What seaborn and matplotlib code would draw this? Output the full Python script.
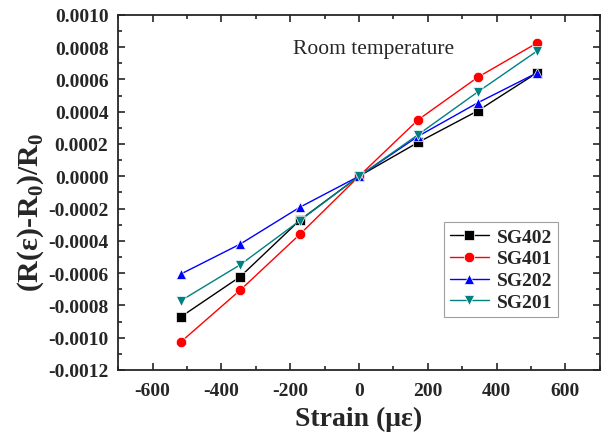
import numpy as np
import pandas as pd
import matplotlib
matplotlib.use("Agg")
import matplotlib.pyplot as plt
from matplotlib.ticker import MultipleLocator, FuncFormatter
import seaborn as sns

strain = [-517, -345, -172, 0, 172, 345, 517]
sg402 = [-0.000870, -0.000622, -0.000272, 0.0, 0.000210, 0.000405, 0.000640]
sg401 = [-0.001025, -0.000705, -0.000360, 0.0, 0.000350, 0.000613, 0.000825]
sg202 = [-0.000605, -0.000420, -0.000192, 0.0, 0.000248, 0.000455, 0.000640]
sg201 = [-0.000770, -0.000548, -0.000275, 0.0, 0.000258, 0.000522, 0.000775]
names = ["SG402", "SG401", "SG202", "SG201"]
colors = ["#000000", "#ff0000", "#0000ff", "#008080"]
marks = ["s", "o", "^", "v"]

df = pd.DataFrame({
    "strain": strain * 4,
    "value": sg402 + sg401 + sg202 + sg201,
    "sensor": sum([[n] * len(strain) for n in names], []),
})

sns.set_style("ticks")
plt.rcParams['font.family'] = ['Liberation Serif', 'DejaVu Serif']
plt.rcParams['axes.unicode_minus'] = False
plt.rcParams['mathtext.fontset'] = 'custom'
plt.rcParams['mathtext.rm'] = 'Liberation Serif'
plt.rcParams['mathtext.bf'] = 'Liberation Serif:bold'

fig = plt.figure(figsize=(6.09, 4.39), dpi=100)
ax = fig.add_axes([0.194, 0.155, 0.791, 0.809])

sns.lineplot(data=df, x="strain", y="value", hue="sensor", style="sensor",
             hue_order=names, style_order=names,
             palette=dict(zip(names, colors)), markers=dict(zip(names, marks)),
             dashes=False, markersize=7.5, linewidth=1.0, markeredgewidth=0.5,
             ax=ax)

ax.set_xlim(-700, 700)
ax.set_ylim(-0.0012, 0.0010)
ax.xaxis.set_major_locator(MultipleLocator(200))
ax.xaxis.set_minor_locator(MultipleLocator(100))
ax.yaxis.set_major_locator(MultipleLocator(0.0002))
ax.yaxis.set_minor_locator(MultipleLocator(0.0001))
ax.yaxis.set_major_formatter(FuncFormatter(
    lambda v, p: "0.0000" if abs(v) < 1e-9 else "%.4f" % v))
ax.xaxis.set_major_formatter(FuncFormatter(lambda v, p: "%d" % round(v)))
ax.tick_params(which='both', direction='in', top=True, right=True, width=1.2)
ax.tick_params(which='major', length=5)
ax.tick_params(which='minor', length=3)
ax.tick_params(axis='x', which='major', pad=8.5)
ax.tick_params(axis='y', which='major', pad=7)
for lab in ax.get_xticklabels() + ax.get_yticklabels():
    lab.set_fontweight('bold')
    lab.set_fontsize(14)
for sp in ax.spines.values():
    sp.set_linewidth(1.3)

ax.set_xlabel("Strain (με)", fontsize=20, fontweight='bold', labelpad=5)
ax.set_ylabel("(R(ε)-R$_\\mathbf{0}$)/R$_\\mathbf{0}$", fontsize=21.5,
              fontweight='bold', labelpad=6)
ax.yaxis.set_label_coords(-0.15, 0.445)

ax.text(0.531, 0.904, "Room temperature", transform=ax.transAxes, ha='center',
        va='center', fontsize=15.5)

leg = ax.legend(loc='lower right', bbox_to_anchor=(0.913, 0.149),
                borderaxespad=0,
                prop={'weight': 'bold', 'size': 14}, frameon=True,
                fancybox=False, handlelength=2.0, borderpad=0.3,
                labelspacing=0.22, handletextpad=0.4)
leg.get_frame().set_edgecolor('#888888')
leg.get_frame().set_linewidth(0.8)

fig.savefig("out.png", dpi=100)
